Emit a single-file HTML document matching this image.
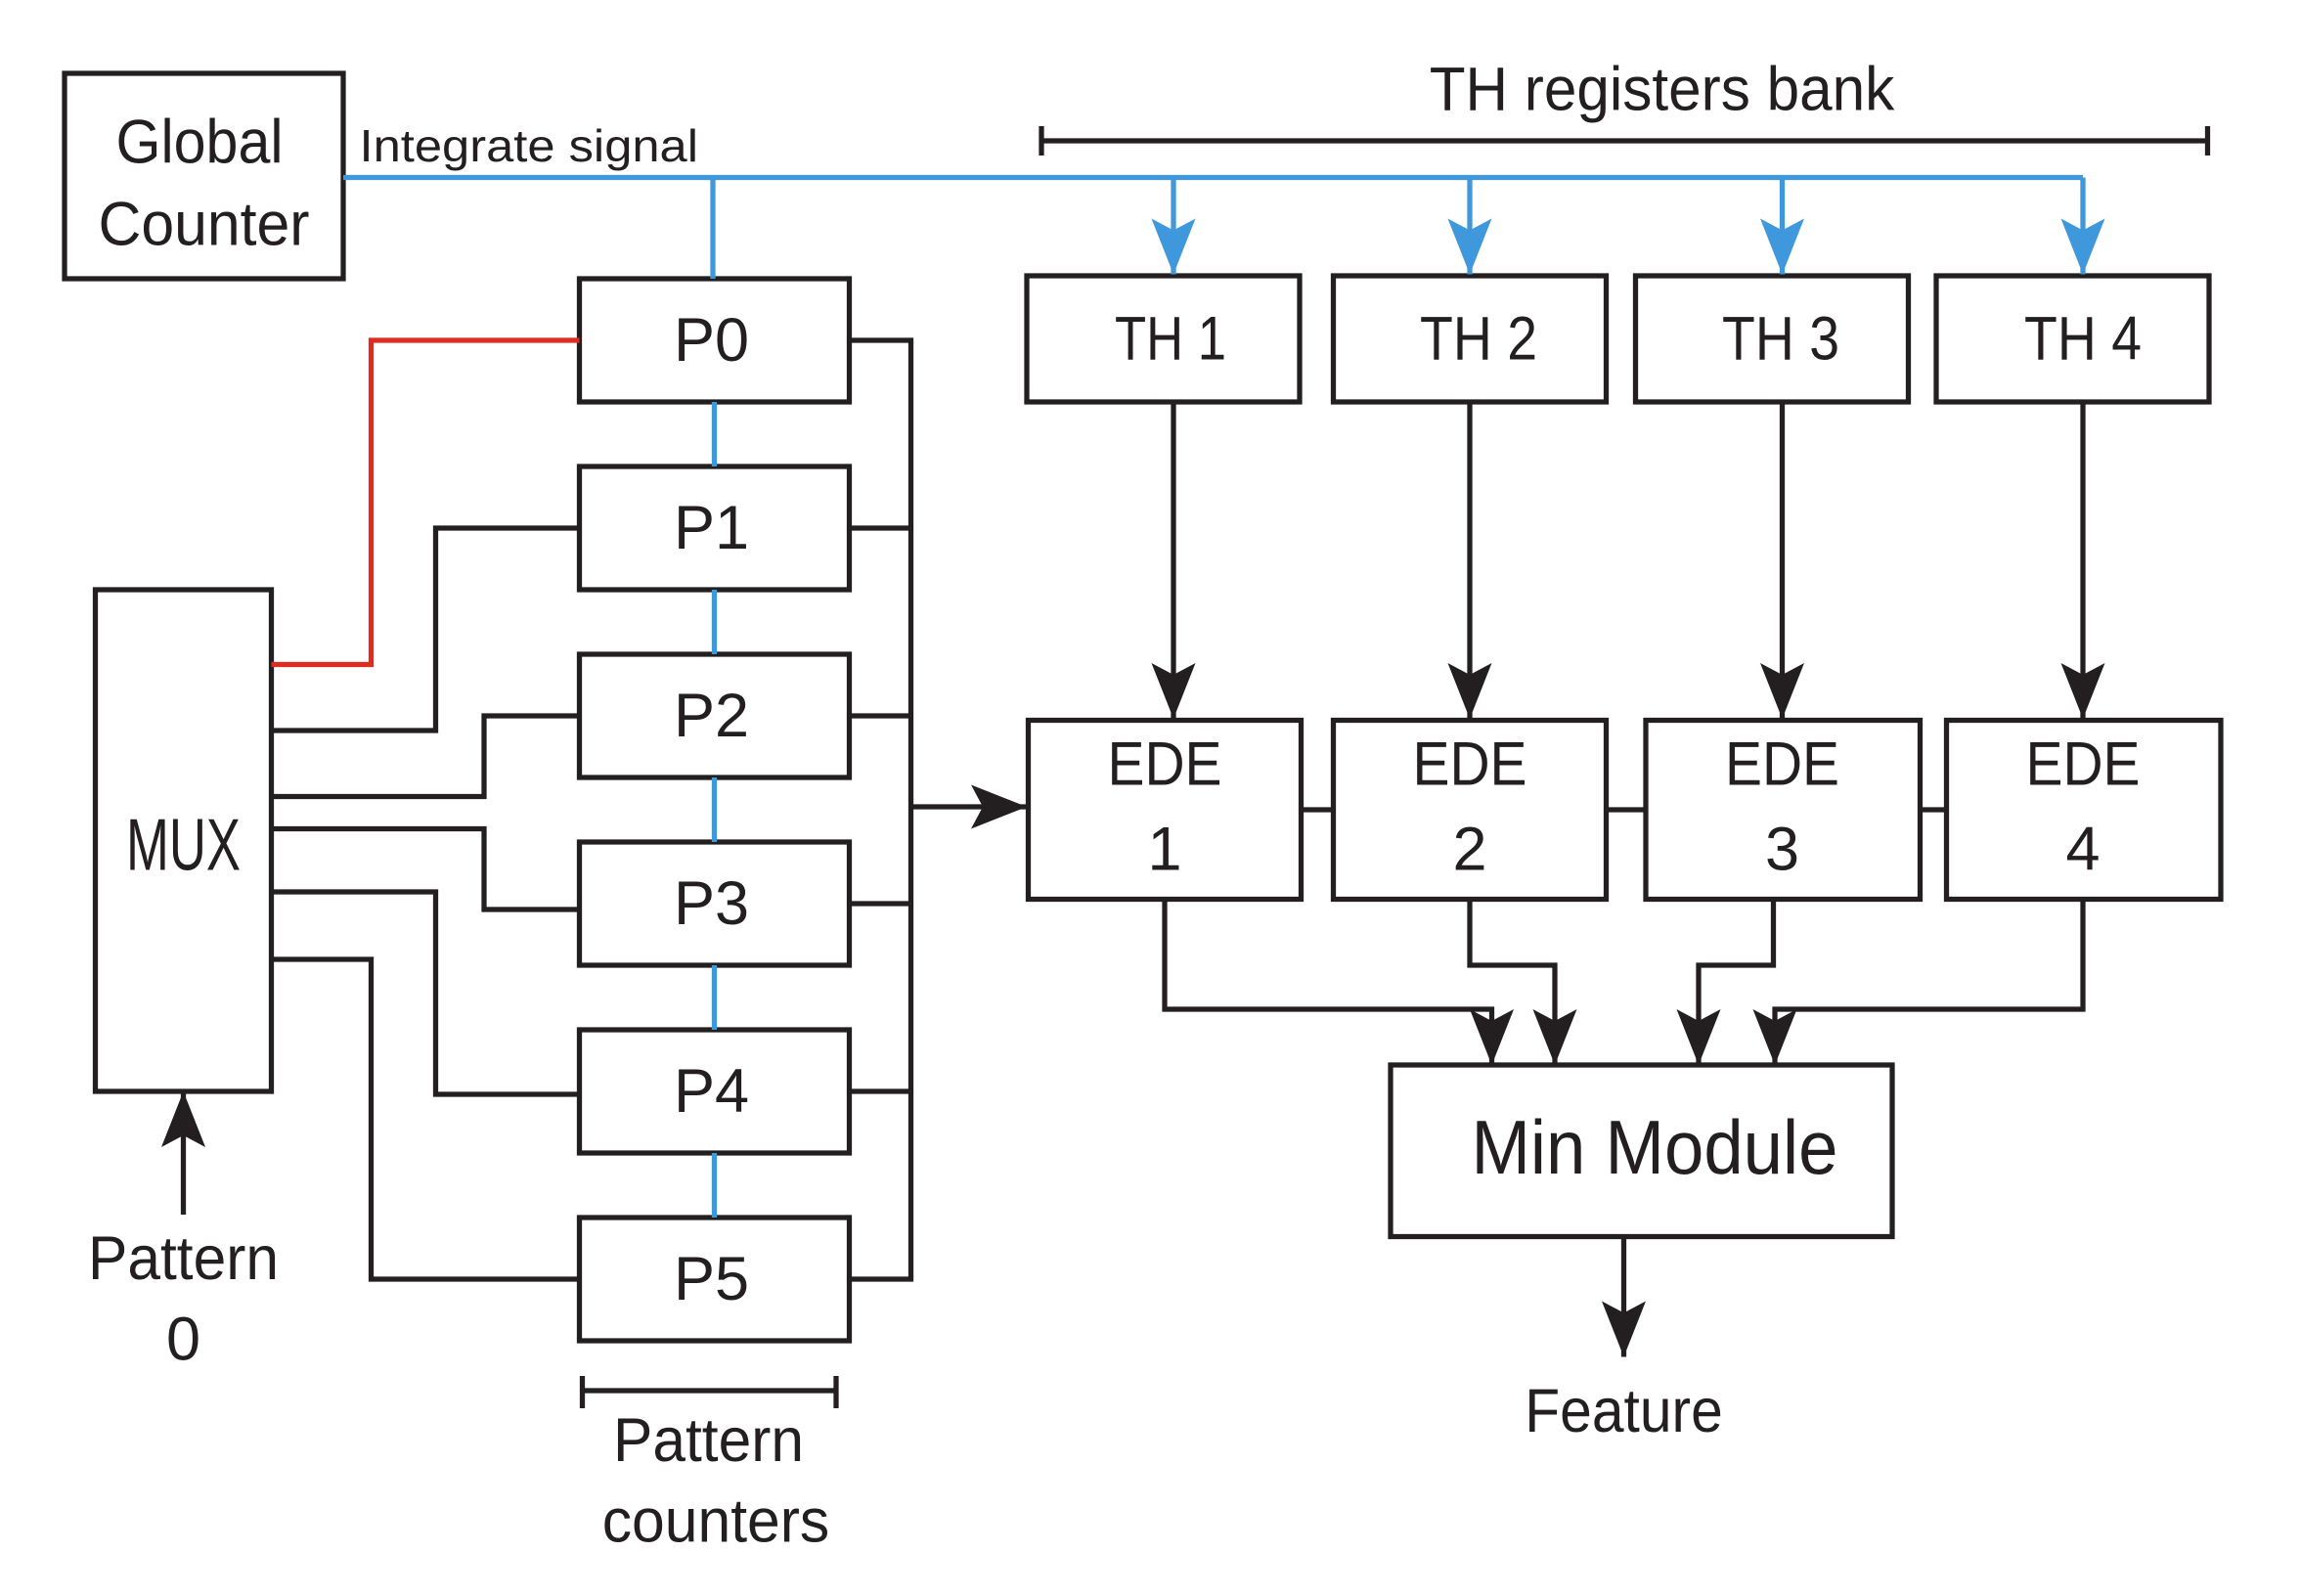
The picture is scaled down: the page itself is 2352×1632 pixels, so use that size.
<!DOCTYPE html>
<html><head><meta charset="utf-8"><style>html,body{margin:0;padding:0;background:#fff}svg{display:block}text{font-family:"Liberation Sans Narrow","Liberation Sans",sans-serif;fill:#231f20;text-anchor:middle}</style></head><body>
<svg width="2352" height="1632" viewBox="0 0 1568 1088" xmlns="http://www.w3.org/2000/svg">
<defs>
<marker id="ab" markerUnits="userSpaceOnUse" markerWidth="40" markerHeight="40" viewBox="0 0 40 40" refX="38" refY="20" orient="auto"><path d="M0,5 L38,20 L0,35 L8,20 Z" fill="#231f20"/></marker>
<marker id="au" markerUnits="userSpaceOnUse" markerWidth="40" markerHeight="40" viewBox="0 0 40 40" refX="38" refY="20" orient="auto"><path d="M0,5 L38,20 L0,35 L8,20 Z" fill="#3f97dc"/></marker>
</defs>
<g fill="none" stroke="#231f20" stroke-width="3.5">
<rect x="44" y="50" width="190" height="140"/>
<rect x="700" y="188" width="186" height="86"/><rect x="909" y="188" width="186" height="86"/><rect x="1115" y="188" width="186" height="86"/><rect x="1320" y="188" width="186" height="86"/>
<rect x="701" y="491" width="186" height="122"/><rect x="909" y="491" width="186" height="122"/><rect x="1122" y="491" width="187" height="122"/><rect x="1327" y="491" width="187" height="122"/>
<rect x="395" y="190" width="184" height="84"/><rect x="395" y="318" width="184" height="84"/><rect x="395" y="446" width="184" height="84"/><rect x="395" y="574" width="184" height="84"/><rect x="395" y="702" width="184" height="84"/><rect x="395" y="830" width="184" height="84"/>
<rect x="65" y="402" width="120" height="342"/>
<rect x="948" y="726" width="342" height="117"/>
<path d="M710,86V106M710,96H1505M1505,86V106"/>
<path d="M397,938V960M397,948H570M570,938V960"/>
<path d="M579,232H621V872H579M579,360H621M579,488H621M579,616H621M579,744H621"/>
<path d="M185,498H297V360H395M185,543H330V488H395M185,565H330V620H395M185,608H297V746H395M185,654H253V872H395"/>
<path d="M887,552H909M1095,552H1122M1309,552H1327"/>
<path d="M621,550H700" marker-end="url(#ab)"/>
<path d="M800,274V490" marker-end="url(#ab)"/><path d="M1002,274V490" marker-end="url(#ab)"/><path d="M1215,274V490" marker-end="url(#ab)"/><path d="M1420,274V490" marker-end="url(#ab)"/>
<path d="M794,613V688H1017V726" marker-end="url(#ab)"/>
<path d="M1002,613V658H1060V726" marker-end="url(#ab)"/>
<path d="M1209,613V658H1158V726" marker-end="url(#ab)"/>
<path d="M1420,613V688H1210V726" marker-end="url(#ab)"/>
<path d="M1107,843V925" marker-end="url(#ab)"/>
<path d="M125,828V744" marker-end="url(#ab)"/>
</g>
<g fill="none" stroke="#3f97dc" stroke-width="3.5">
<path d="M234,121H1420M486,121V190M487,274V318M487,402V446M487,530V574M487,658V702M487,786V830"/>
<path d="M800,121V187" marker-end="url(#au)"/><path d="M1002,121V187" marker-end="url(#au)"/><path d="M1215,121V187" marker-end="url(#au)"/><path d="M1420,121V187" marker-end="url(#au)"/>
</g>
<path d="M185,453H253V232H395" fill="none" stroke="#e02b20" stroke-width="3.5"/>
<g font-size="42" lengthAdjust="spacingAndGlyphs">
<text x="136" y="111" textLength="114" lengthAdjust="spacingAndGlyphs">Global</text><text x="139" y="167" textLength="144" lengthAdjust="spacingAndGlyphs">Counter</text>
<text x="1133" y="75" textLength="317" lengthAdjust="spacingAndGlyphs">TH  registers bank</text>
<text x="798" y="245" textLength="76" lengthAdjust="spacingAndGlyphs">TH 1</text><text x="1008" y="245" textLength="80" lengthAdjust="spacingAndGlyphs">TH 2</text><text x="1214" y="245" textLength="80" lengthAdjust="spacingAndGlyphs">TH 3</text><text x="1420" y="245" textLength="80" lengthAdjust="spacingAndGlyphs">TH 4</text>
<text x="794" y="535" textLength="78" lengthAdjust="spacingAndGlyphs">EDE</text><text x="794" y="593">1</text>
<text x="1002" y="535" textLength="78" lengthAdjust="spacingAndGlyphs">EDE</text><text x="1002" y="593">2</text>
<text x="1215" y="535" textLength="78" lengthAdjust="spacingAndGlyphs">EDE</text><text x="1215" y="593">3</text>
<text x="1420" y="535" textLength="78" lengthAdjust="spacingAndGlyphs">EDE</text><text x="1420" y="593">4</text>
<text x="485" y="246">P0</text><text x="485" y="374">P1</text><text x="485" y="502">P2</text><text x="485" y="630">P3</text><text x="485" y="758">P4</text><text x="485" y="886">P5</text>
<text x="125" y="872" textLength="130" lengthAdjust="spacingAndGlyphs">Pattern</text><text x="125" y="927">0</text>
<text x="483" y="996" textLength="130" lengthAdjust="spacingAndGlyphs">Pattern</text><text x="488" y="1051" textLength="155" lengthAdjust="spacingAndGlyphs">counters</text>
<text x="1107" y="976" textLength="135" lengthAdjust="spacingAndGlyphs">Feature</text>
</g>
<text x="125" y="593" font-size="50" textLength="78" lengthAdjust="spacingAndGlyphs">MUX</text>
<text x="1128" y="800" font-size="52" textLength="250" lengthAdjust="spacingAndGlyphs">Min Module</text>
<text x="245" y="110" font-size="31" style="text-anchor:start" textLength="231" lengthAdjust="spacingAndGlyphs">Integrate signal</text>
</svg>
</body></html>
